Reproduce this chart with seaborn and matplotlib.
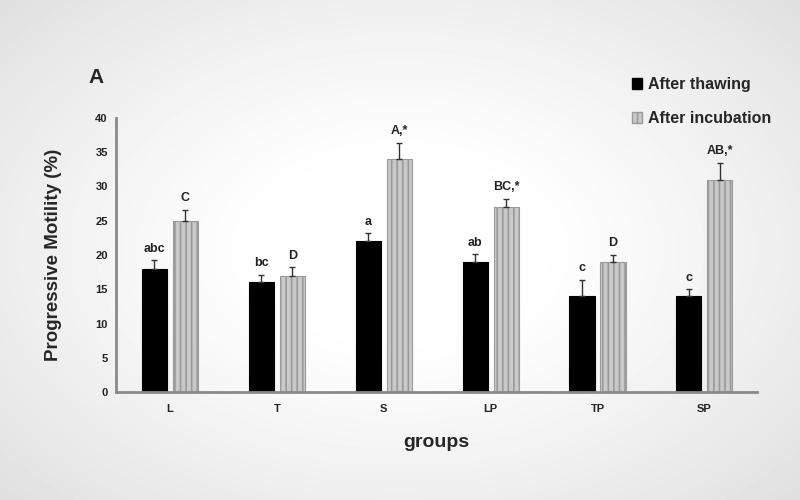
import numpy as np
import pandas as pd
import matplotlib
matplotlib.use("Agg")
import matplotlib.pyplot as plt
import seaborn as sns
from matplotlib.patches import Patch

# data
groups = ["L", "T", "S", "LP", "TP", "SP"]
thawing = [18, 16, 22, 19, 14, 14]
thawing_err = [1.2, 1.1, 1.2, 1.1, 2.4, 1.0]
incubation = [25, 17, 34, 27, 19, 31]
incubation_err = [1.6, 1.2, 2.4, 1.2, 1.0, 2.5]
thawing_labels = ["abc", "bc", "a", "ab", "c", "c"]
incubation_labels = ["C", "D", "A,*", "BC,*", "D", "AB,*"]
series = ["After thawing", "After incubation"]

df = pd.DataFrame({
    "group": groups * 2,
    "value": thawing + incubation,
    "series": [series[0]] * len(groups) + [series[1]] * len(groups),
})

sns.set_theme(style="white")
plt.rcParams["font.family"] = ["Liberation Sans", "DejaVu Sans"]
plt.rcParams["hatch.linewidth"] = 1.2

fig = plt.figure(figsize=(8, 5), dpi=100)

# light grey vignette background
bg = fig.add_axes([0, 0, 1, 1], zorder=-10)
yy, xx = np.mgrid[-1:1:250j, -1:1:400j]
r = np.sqrt((xx / 1.05) ** 2 + (yy / 1.1) ** 2)
shade = np.clip(1.0 - 0.12 * np.clip(r - 0.3, 0, None) ** 1.2, 0, 1)
bg.imshow(shade, cmap="gray", vmin=0, vmax=1, aspect="auto", extent=[0, 1, 0, 1])
bg.axis("off")

ax = fig.add_axes([0.145, 0.216, 0.801, 0.548])
ax.set_facecolor("none")

sns.barplot(data=df, x="group", y="value", hue="series", order=groups,
            hue_order=series, palette=["black", "#c9c9c9"], width=0.58,
            gap=0.19, errorbar=None, legend=False, ax=ax)

n = len(groups)
for i, p in enumerate(ax.patches[:2 * n]):
    if i < n:
        p.set_edgecolor("black")
        p.set_linewidth(0.8)
    else:
        p.set_edgecolor("#9a9a9a")
        p.set_hatch("|||")
        p.set_linewidth(0.8)

bars_t = ax.patches[:n]
bars_i = ax.patches[n:2 * n]
for bars, vals, errs, labs in [(bars_t, thawing, thawing_err, thawing_labels),
                               (bars_i, incubation, incubation_err, incubation_labels)]:
    for p, v, e, lab in zip(bars, vals, errs, labs):
        xc = p.get_x() + p.get_width() / 2
        ax.errorbar(xc, v, yerr=[[0], [e]], fmt="none", ecolor="#333333",
                    elinewidth=1.0, capsize=2, capthick=1.0)
        ax.annotate(lab, (xc, v + e), xytext=(0, 4), textcoords="offset points",
                    ha="center", va="bottom", fontsize=9, fontweight="bold",
                    color="#222222")

ax.set_xlim(-0.505, 5.49)
ax.set_ylim(0, 40)
ax.set_yticks(range(0, 41, 5))
ax.tick_params(axis="both", labelsize=8, length=0, pad=6, colors="#222222")
for lbl in ax.get_xticklabels() + ax.get_yticklabels():
    lbl.set_fontweight("bold")
ax.tick_params(axis="x", pad=9)

sns.despine(ax=ax)
for s in ["left", "bottom"]:
    ax.spines[s].set_color("#8a8a8a")
    ax.spines[s].set_linewidth(2)

ax.set_xlabel("groups", fontsize=14, fontweight="bold", labelpad=14)
ax.set_ylabel("Progressive Motility (%)", fontsize=13.5, fontweight="bold", labelpad=24)

fig.text(0.11, 0.845, "A", fontsize=15, fontweight="bold", ha="left", va="center")

# legend
handles = [Patch(facecolor="black", edgecolor="black"),
           Patch(facecolor="#c9c9c9", edgecolor="#9a9a9a", hatch="||")]
leg = fig.legend(handles, series, loc="upper left", bbox_to_anchor=(0.772, 0.875),
                 frameon=False, fontsize=11.5, handlelength=0.65, handleheight=0.65,
                 handletextpad=0.35, labelspacing=1.2)
for t in leg.get_texts():
    t.set_fontweight("bold")

fig.savefig("out.png", dpi=100)
